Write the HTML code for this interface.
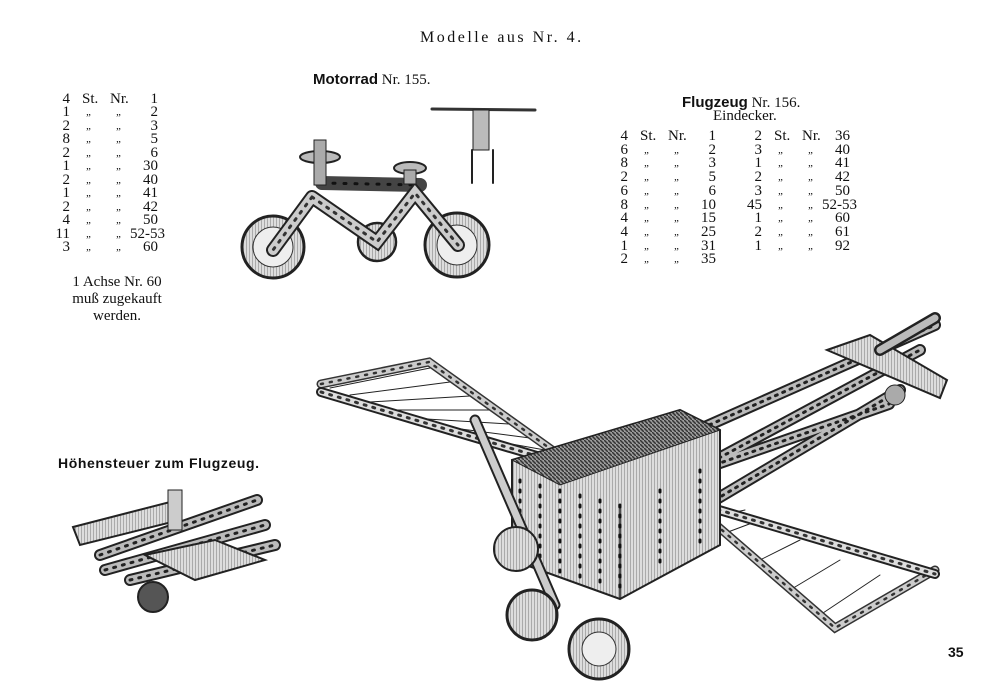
<!DOCTYPE html>
<html><head><meta charset="utf-8"><style>
body{margin:0;background:#fff;}
#p{position:relative;width:1000px;height:700px;overflow:hidden;background:#fff;font-family:"Liberation Serif",serif;color:#111;}
.t{position:absolute;font-size:15px;line-height:15px;white-space:nowrap;}
.q{font-size:11px;font-style:italic;}
.b{font-family:"Liberation Sans",sans-serif;font-weight:bold;}
svg{position:absolute;left:0;top:0;}
</style></head><body><div id="p">
<svg width="1000" height="700" viewBox="0 0 1000 700">
<defs>
<pattern id="h" width="3" height="3" patternUnits="userSpaceOnUse"><rect width="3" height="3" fill="#ddd"/><line x1="0" y1="0" x2="0" y2="3" stroke="#777" stroke-width="1"/></pattern>
<pattern id="h2" width="4" height="4" patternUnits="userSpaceOnUse"><rect width="4" height="4" fill="#999"/><line x1="0" y1="0" x2="4" y2="4" stroke="#333" stroke-width="1.5"/></pattern>
</defs>
<g stroke-linecap="round" fill="none">
<!-- Motorrad -->
<circle cx="273" cy="247" r="31" fill="url(#h)" stroke="#222" stroke-width="3"/>
<circle cx="273" cy="247" r="20" fill="#eee" stroke="#333"/>
<circle cx="457" cy="245" r="32" fill="url(#h)" stroke="#222" stroke-width="3"/>
<circle cx="457" cy="245" r="20" fill="#eee" stroke="#333"/>
<circle cx="377" cy="242" r="19" fill="url(#h)" stroke="#222" stroke-width="2.5"/>
<path d="M322 183 L420 185" stroke="#444" stroke-width="14"/>
<path d="M322 183 L420 185" stroke="#111" stroke-width="3" stroke-dasharray="2 9"/>
<path d="M312 197 L273 250 M312 197 L377 242 L415 193 L458 245" stroke="#222" stroke-width="14"/>
<path d="M312 197 L273 250 M312 197 L377 242 L415 193 L458 245" stroke="#ccc" stroke-width="10"/>
<path d="M312 197 L273 250 M312 197 L377 242 L415 193 L458 245" stroke="#333" stroke-width="3" stroke-dasharray="2 7"/>
<ellipse cx="320" cy="157" rx="20" ry="6" fill="#bbb" stroke="#222" stroke-width="2"/>
<rect x="314" y="140" width="12" height="45" fill="#aaa" stroke="#222"/>
<ellipse cx="410" cy="168" rx="16" ry="6" fill="#bbb" stroke="#222" stroke-width="2"/>
<rect x="404" y="170" width="12" height="14" fill="#aaa" stroke="#222"/>
<!-- front view -->
<path d="M432 109 L535 110" stroke="#333" stroke-width="3"/>
<rect x="473" y="110" width="16" height="40" fill="#bbb" stroke="#222"/>
<path d="M472 150 L472 183 M493 150 L493 183" stroke="#222" stroke-width="2"/>
<!-- left wing -->
<path d="M330 388 L430 368 M350 395 L450 382 M370 402 L470 396 M390 410 L490 410 M410 418 L510 424 M430 425 L530 438 M450 433 L545 450" stroke="#222" stroke-width="1"/>
<path d="M321 384 L429 362 L566 460" stroke="#333" stroke-width="9"/>
<path d="M321 384 L429 362 L566 460" stroke="#ccc" stroke-width="6"/>
<path d="M321 384 L429 362 L566 460" stroke="#333" stroke-width="2.5" stroke-dasharray="2 7"/>
<!-- right wing -->
<path d="M720 535 L760 520 M760 560 L800 540 M790 590 L840 560 M820 615 L880 575 M700 520 L745 510 M850 620 L910 580" stroke="#222" stroke-width="1"/>
<path d="M715 524 L835 628 L935 570" stroke="#333" stroke-width="9"/>
<path d="M715 524 L835 628 L935 570" stroke="#ccc" stroke-width="6"/>
<path d="M715 524 L835 628 L935 570" stroke="#333" stroke-width="2.5" stroke-dasharray="2 7"/>
<!-- leading edge strip -->
<path d="M321 392 L935 574" stroke="#222" stroke-width="10"/>
<path d="M321 392 L935 574" stroke="#ddd" stroke-width="6"/>
<path d="M321 392 L935 574" stroke="#333" stroke-width="3" stroke-dasharray="2 7"/>
<!-- tail booms -->
<path d="M673 441 L935 325 M700 470 L889 404 M719 458 L920 350 M715 500 L900 390" stroke="#222" stroke-width="12"/>
<path d="M673 441 L935 325 M700 470 L889 404 M719 458 L920 350 M715 500 L900 390" stroke="#bbb" stroke-width="8"/>
<path d="M673 441 L935 325 M700 470 L889 404 M719 458 L920 350 M715 500 L900 390" stroke="#222" stroke-width="3" stroke-dasharray="2 6"/>
<polygon points="827,350 870,335 947,380 940,398" fill="url(#h)" stroke="#222" stroke-width="2"/>
<path d="M880 350 L935 318" stroke="#222" stroke-width="12"/>
<path d="M880 350 L935 318" stroke="#bbb" stroke-width="7"/>
<circle cx="895" cy="395" r="10" fill="#aaa" stroke="#222"/>
<!-- fuselage box -->
<polygon points="512,460 680,410 720,430 720,545 620,599 512,560" fill="url(#h)" stroke="#222" stroke-width="2"/>
<polygon points="512,460 680,410 720,430 560,485" fill="url(#h2)" stroke="#222"/>
<path d="M620 505 L620 599" stroke="#222" stroke-width="1.5"/>
<path d="M520 480 L520 560 M540 485 L540 570 M560 490 L560 580 M580 495 L580 585 M600 500 L600 590 M620 505 L620 595 M660 490 L660 570 M700 470 L700 550" stroke="#111" stroke-width="3" stroke-dasharray="2 8"/>
<!-- prop and wheels -->
<path d="M475 420 L555 605" stroke="#222" stroke-width="11"/>
<path d="M475 420 L555 605" stroke="#ccc" stroke-width="7"/>
<circle cx="516" cy="549" r="22" fill="url(#h)" stroke="#222" stroke-width="2"/>
<circle cx="532" cy="615" r="25" fill="url(#h)" stroke="#222" stroke-width="3"/>
<circle cx="599" cy="649" r="30" fill="url(#h)" stroke="#222" stroke-width="3"/>
<circle cx="599" cy="649" r="17" fill="#eee" stroke="#333"/>
<!-- Hoehensteuer -->
<polygon points="73,527 170,502 180,520 80,545" fill="url(#h)" stroke="#222" stroke-width="2"/>
<path d="M100 555 L257 500 M105 570 L265 525 M130 580 L275 545" stroke="#222" stroke-width="12"/>
<path d="M100 555 L257 500 M105 570 L265 525 M130 580 L275 545" stroke="#bbb" stroke-width="8"/>
<path d="M100 555 L257 500 M105 570 L265 525 M130 580 L275 545" stroke="#222" stroke-width="3" stroke-dasharray="2 7"/>
<polygon points="145,555 215,540 265,560 195,580" fill="url(#h)" stroke="#222" stroke-width="2"/>
<circle cx="153" cy="597" r="15" fill="#555" stroke="#222" stroke-width="2"/>
<rect x="168" y="490" width="14" height="40" fill="#ccc" stroke="#222"/>
</g>
</svg>
<div class="t" style="left:420px;top:30px;font-size:16px;letter-spacing:2.5px;">Modelle aus Nr. 4.</div>
<div class="t" style="left:313px;top:72px;"><span class="b">Motorrad</span> Nr. 155.</div>
<div class="t" style="left:682px;top:95px;"><span class="b">Flugzeug</span> Nr. 156.</div>
<div class="t" style="left:713px;top:109px;">Eindecker.</div>
<div class="t" style="left:58px;top:456px;font-size:14px;letter-spacing:0.6px;"><span class="b">Höhensteuer zum Flugzeug.</span></div>
<div class="t" style="left:62px;top:274px;width:110px;text-align:center;line-height:17px;">1 Achse Nr. 60<br>muß zugekauft<br>werden.</div>
<div class="t b" style="left:948px;top:645px;font-size:14px;">35</div>
<script>
function row(x,y,a,st,nr,n){
 var d=document.getElementById('p');
 function s(l,t,txt,w,al,c){var e=document.createElement('div');e.className='t'+(c?' '+c:'');e.style.left=l+'px';e.style.top=t+'px';if(w){e.style.width=w+'px';e.style.textAlign=al;}e.textContent=txt;d.appendChild(e);}
 var q=st!="St.";
 s(x-30,y,a,30,'right');s(x+12+(q?4:0),y,q?"\u201e":st,0,0,q?'q':'');s(x+40+(q?6:0),y,q?"\u201e":nr,0,0,q?'q':'');s(x+60,y,n,n.length>3?45:28,n.length>3?'left':'right');
}
var L=[["4","St.","Nr.","1"],["1","","","2"],["2","","","3"],["8","","","5"],["2","","","6"],["1","","","30"],["2","","","40"],["1","","","41"],["2","","","42"],["4","","","50"],["11","","","52-53"],["3","","","60"]];
L.forEach(function(r,i){row(70,92+i*13.45,r[0],r[1],r[2],r[3]);});
var A=[["4","St.","Nr.","1"],["6","","","2"],["8","","","3"],["2","","","5"],["6","","","6"],["8","","","10"],["4","","","15"],["4","","","25"],["1","","","31"],["2","","","35"]];
A.forEach(function(r,i){row(628,129+i*13.7,r[0],r[1],r[2],r[3]);});
var B=[["2","St.","Nr.","36"],["3","","","40"],["1","","","41"],["2","","","42"],["3","","","50"],["45","","","52-53"],["1","","","60"],["2","","","61"],["1","","","92"]];
B.forEach(function(r,i){row(762,129+i*13.7,r[0],r[1],r[2],r[3]);});
</script>
</div></body></html>
